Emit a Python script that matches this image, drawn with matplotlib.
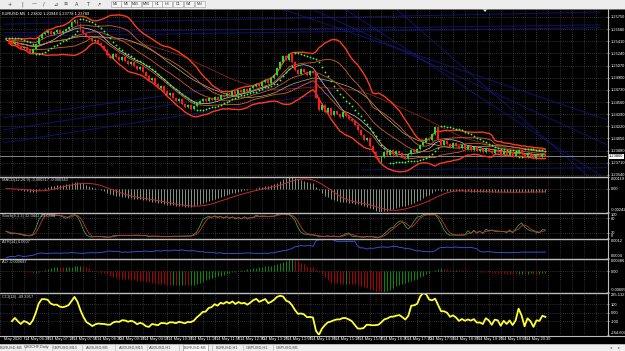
import numpy as np
import pandas as pd
import matplotlib
matplotlib.use("Agg")
import matplotlib.pyplot as plt
from matplotlib.patches import Rectangle, Polygon
import logging
logging.getLogger('matplotlib.font_manager').setLevel(logging.ERROR)

plt.rcParams['font.family'] = ['Liberation Sans Narrow', 'Liberation Sans', 'DejaVu Sans']

W, H = 625, 351
AXR = 607            # right edge of the plot area (px)
XMIN, XMAX = -2 / 3, (AXR - 2) / 3   # 3 px per bar

### data ###
symbol_line = "EURUSD,M5  1.23802 1.23944 1.23778 1.23789"
first_open = 1.2545
wick = 0.00012

close = [
    1.2543, 1.2540, 1.2537, 1.2539, 1.2534, 1.2532, 1.2533,
    1.2529, 1.2525, 1.2530, 1.2537, 1.2546, 1.2551, 1.2553,
    1.2555, 1.2551, 1.2554, 1.2557, 1.2553, 1.2555, 1.2558, 1.2561,
    1.2568, 1.2571, 1.2565, 1.2557, 1.2553, 1.2548,
    1.2546, 1.2541, 1.2543, 1.2539, 1.2534, 1.2529,
    1.2522, 1.2518, 1.2523, 1.2519, 1.2515,
    1.2519, 1.2513, 1.2509, 1.2512, 1.2506, 1.2502, 1.2505,
    1.2498, 1.2492, 1.2487, 1.2490, 1.2481, 1.2476, 1.2478,
    1.2471, 1.2466, 1.2469, 1.2462, 1.2457, 1.2460, 1.2453,
    1.2449, 1.2452, 1.2446, 1.2450, 1.2455, 1.2457, 1.2460,
    1.2457, 1.2462, 1.2459, 1.2463, 1.2460, 1.2466, 1.2464,
    1.2469, 1.2466, 1.2471, 1.2467, 1.2473, 1.2470, 1.2474, 1.2471, 1.2476, 1.2478,
    1.2481, 1.2478, 1.2484, 1.2487, 1.2483, 1.2490, 1.2494,
    1.2504, 1.2512, 1.2520, 1.2515, 1.2523, 1.2512,
    1.2501, 1.2495, 1.2502, 1.2498, 1.2494, 1.2499, 1.2497,
    1.2462, 1.2445, 1.2452, 1.2442, 1.2448, 1.2438, 1.2443,
    1.2439, 1.2435, 1.2442, 1.2436, 1.2432, 1.2429, 1.2424,
    1.2417, 1.2410, 1.2403, 1.2406, 1.2394, 1.2386, 1.2378,
    1.2372, 1.2379, 1.2386, 1.2382, 1.2389, 1.2383, 1.2387,
    1.2385, 1.2380, 1.2378, 1.2383, 1.2389, 1.2386, 1.2390,
    1.2396, 1.2400, 1.2406, 1.2403, 1.2411, 1.2421,
    1.2403, 1.2396, 1.2401, 1.2397, 1.2393, 1.2399, 1.2394,
    1.2392, 1.2396, 1.2390, 1.2394, 1.2389, 1.2393, 1.2387,
    1.2390, 1.2386, 1.2392, 1.2387, 1.2385, 1.2389, 1.2386,
    1.2383, 1.2387, 1.2382, 1.2386, 1.2380, 1.2385, 1.2389,
    1.2383, 1.2379, 1.2385, 1.2380, 1.2378, 1.2382, 1.2379, 1.2383, 1.2380,
]

price_ticks = [1.2575, 1.2558, 1.2541, 1.2524, 1.2507, 1.2490, 1.2473,
               1.2456, 1.2439, 1.2422, 1.2405, 1.2388, 1.2371, 1.2354]
price_lim = (1.23524, 1.25862)

time_labels = ["14 May 06:30", "14 May 07:10", "14 May 07:50", "14 May 08:30",
               "14 May 09:10", "14 May 09:50", "14 May 10:30", "14 May 11:10",
               "14 May 11:50", "14 May 12:30", "14 May 13:10", "14 May 13:50",
               "14 May 14:30", "14 May 15:10", "14 May 15:50", "14 May 16:30",
               "14 May 17:10", "14 May 17:50", "14 May 18:30", "14 May 19:10",
               "14 May 19:50", "14 May 20:30"]
first_label_bar = 6
label_every = 8

# trend lines drawn on the chart: (bar0, price0, bar1, price1)
trend_lines = [
    (-0.7, 1.2565, 199.3, 1.2582),
    (-0.7, 1.2553, 199.3, 1.2564),
    (-0.7, 1.2548, 199.3, 1.2560),
    (92.7, 1.2586, 201.7, 1.2431),
    (102.7, 1.2586, 201.7, 1.2396),
    (113.7, 1.2586, 201.7, 1.2347),
    (131.0, 1.2586, 201.7, 1.2329),
    (-0.7, 1.2417, 109.3, 1.2487),
    (-0.7, 1.2399, 109.3, 1.2469),
    (-0.7, 1.2434, 72.7, 1.2476),
    (119.3, 1.2361, 201.7, 1.2364),
]

tabs = ["EURUSD,M5", "USDCHF,Daily", "GBPUSD,M15", "AUDUSD,M5", "AUDUSD,M15",
        "AUDUSD,H1", "EURUSD,M5", "EURUSD,H1", "GBPUSD,H1", "GBPUSD,M5"]
tab_x = [11, 37, 65, 97, 131, 160, 195, 227, 257, 287]
active_tab = 6
tf_buttons = ["M1", "M5", "M15", "M30", "H1", "H4", "D1", "W1", "MN"]
tf_x = [115.5, 126, 135.5, 146.5, 157, 167, 178, 189, 200]

### indicators ###
c = pd.Series(close)
o = pd.Series(np.r_[first_open, close[:-1]])
hi = np.maximum(o, c) + wick
lo = np.minimum(o, c) - wick
x = np.arange(len(c))

mid = c.rolling(20, min_periods=2).mean()
sd = c.rolling(20, min_periods=2).std(ddof=0)
bb_up, bb_dn = mid + 2 * sd, mid - 2 * sd
bb_up1, bb_dn1 = mid + sd, mid - sd
ma10 = c.rolling(10, min_periods=1).mean()
ma30 = c.rolling(30, min_periods=1).mean()
ma50 = c.rolling(50, min_periods=1).mean()


def psar(high, low, step=0.02, mx=0.2):
    high, low = np.asarray(high), np.asarray(low)
    n = len(high)
    sar = np.zeros(n)
    up, af, ep = False, step, low[0]
    sar[0] = high[0]
    for i in range(1, n):
        s = sar[i - 1] + af * (ep - sar[i - 1])
        if up:
            s = min(s, low[i - 1], low[max(i - 2, 0)])
            if low[i] < s:
                up, s, ep, af = False, ep, low[i], step
            elif high[i] > ep:
                ep, af = high[i], min(af + step, mx)
        else:
            s = max(s, high[i - 1], high[max(i - 2, 0)])
            if high[i] > s:
                up, s, ep, af = True, ep, high[i], step
            elif low[i] < ep:
                ep, af = low[i], min(af + step, mx)
        sar[i] = s
    return sar


sar = psar(hi, lo)

macd = c.ewm(span=12, adjust=False).mean() - c.ewm(span=26, adjust=False).mean()
macd_sig = macd.rolling(9, min_periods=1).mean()

ll, hh = lo.rolling(8, min_periods=1).min(), hi.rolling(8, min_periods=1).max()
st_k = 100 * (c - ll).rolling(3, min_periods=1).sum() / (hh - ll).rolling(3, min_periods=1).sum()
st_d = st_k.rolling(3, min_periods=1).mean()

prev = c.shift(1).fillna(first_open)
tr = pd.concat([hi - lo, (hi - prev).abs(), (lo - prev).abs()], axis=1).max(axis=1)
atr = tr.rolling(14, min_periods=1).mean()

med = (hi + lo) / 2
ao = med.rolling(5, min_periods=1).mean() - med.rolling(34, min_periods=1).mean()
ao_col = np.where(ao.diff().fillna(0) >= 0, '#00a800', '#c80000')

tp = (hi + lo + c) / 3
md = tp.rolling(14, min_periods=3).apply(lambda v: np.mean(np.abs(v - v.mean())), raw=True)
cci = (tp - tp.rolling(14, min_periods=3).mean()) / (0.015 * md)

### figure ###
fig = plt.figure(figsize=(W / 100, H / 100), dpi=100, facecolor='black')
GRID = dict(color='#5c5c5c', ls=(0, (1, 2)), lw=0.5)
FS = 2.9


def panel(top, bottom):
    ax = fig.add_axes([0, 1 - bottom / H, AXR / W, (bottom - top) / H])
    ax.set_facecolor('black')
    for s in ax.spines.values():
        s.set_visible(False)
    ax.set_xlim(XMIN, XMAX)
    ax.set_xticks(np.arange(-2, XMAX, 4))
    ax.tick_params(axis='x', bottom=False, labelbottom=False)
    ax.yaxis.tick_right()
    ax.tick_params(axis='y', colors='white', labelsize=FS, length=1.5, width=0.5, pad=1)
    ax.grid(True, **GRID)
    ax.set_axisbelow(True)
    return ax


def title(ax, s):
    ax.text(0.004, 0.96, s, transform=ax.transAxes, va='top', ha='left',
            fontsize=FS, color='#d8d8d8')


def edge_ticks(ax, vals, fmt, inset=True):
    ax.set_yticks(vals)
    labs = ax.set_yticklabels([fmt(v) for v in vals])
    if inset:
        labs[0].set_va('top')
        labs[-1].set_va('bottom')


# main chart
ax = panel(9, 176)
ax.set_ylim(*price_lim)
edge_ticks(ax, price_ticks, lambda v: f"{v:.5f}", inset=False)
for b0, p0, b1, p1 in trend_lines:
    ax.plot([b0, b1], [p0, p1], color='#1a1a9a', lw=0.8, alpha=0.6, zorder=1)
ax.axhline(close[-1], color='#9a9a9a', lw=0.6, zorder=1)
ax.plot(x, ma50, color='#8b1f1f', lw=0.6, zorder=2)
ax.plot(x, ma30, color='#b8b070', lw=0.5, zorder=2)
ax.plot(x, ma10, color='#d0d0d0', lw=0.5, zorder=2)
ax.plot(x, mid, color='#c85a28', lw=0.6, zorder=2)
ax.plot(x, bb_up1, color='#d9602c', lw=0.6, zorder=2)
ax.plot(x, bb_dn1, color='#d9602c', lw=0.6, zorder=2)
ax.plot(x, bb_up, color='#ff3a1c', lw=1.0, zorder=2)
ax.plot(x, bb_dn, color='#ff3a1c', lw=1.0, zorder=2)
cols = np.where(c > o, '#22dd22', '#ff1a1a')
ax.vlines(x, lo, hi, colors=cols, lw=0.5, zorder=3)
ax.bar(x, np.maximum((c - o).abs(), 0.00003), bottom=np.minimum(o, c),
       width=0.65, color=cols, lw=0, zorder=3)
ax.plot(x, sar, ls='none', marker='o', ms=1.3, mec='none', mfc='#3cff3c', zorder=4)
ax.text(1.003, close[-1], f"{close[-1]:.5f}", transform=ax.get_yaxis_transform(),
        va='center', ha='left', fontsize=FS, color='black',
        bbox=dict(boxstyle='square,pad=0.15', fc='white', ec='none'))
ax.text(0.004, 0.985, symbol_line, transform=ax.transAxes, va='top', ha='left',
        fontsize=FS, color='white')

# MACD
ax2 = panel(177, 212)
lo2, hi2 = min(macd.min(), macd_sig.min()), max(macd.max(), macd_sig.max())
ax2.set_ylim(lo2, hi2)
edge_ticks(ax2, [hi2, 0, lo2], lambda v: "0.00" if v == 0 else f"{v:.5f}")
ax2.vlines(x, 0, macd, colors='#9aae9a', lw=0.6)
ax2.plot(x, macd_sig, color='#c82828', lw=0.7)
title(ax2, f"MACD(12,26,9) {macd.iloc[-1]:.6f} {macd_sig.iloc[-1]:.6f}")

# Stochastic
ax3 = panel(213, 238)
ax3.set_ylim(0, 100)
edge_ticks(ax3, [100, 80, 20, 0], lambda v: f"{v:g}")
ax3.plot(x, st_k, color='#3aa040', lw=0.6)
ax3.plot(x, st_d, color='#c83232', lw=0.6)
title(ax3, f"Stoch(8,3,3) {st_k.iloc[-1]:.4f} {st_d.iloc[-1]:.4f}")

# ATR
ax4 = panel(239, 258)
lo4, hi4 = atr.min(), atr.max()
ax4.set_ylim(lo4, hi4)
edge_ticks(ax4, [hi4, lo4], lambda v: f"{v:.4f}")
ax4.plot(x, atr, color='#3050d0', lw=0.7)
title(ax4, f"ATR(14) {atr.iloc[-1]:.4f}")

# Awesome oscillator
ax5 = panel(259, 292)
lo5, hi5 = ao.min(), ao.max()
ax5.set_ylim(lo5, hi5)
edge_ticks(ax5, [hi5, 0, lo5], lambda v: "0.00" if v == 0 else f"{v:.5f}")
ax5.vlines(x, 0, ao, colors=ao_col, lw=0.6)
title(ax5, f"AO {ao.iloc[-1]:.6f}")

# CCI
ax6 = panel(293, 335)
lo6, hi6 = cci.min(), cci.max()
ax6.set_ylim(lo6, hi6)
edge_ticks(ax6, [hi6, 100, 0, -100, lo6],
           lambda v: "0.00" if v == 0 else f"{v:g}" if abs(v) == 100 else f"{v:.3f}")
ax6.plot(x, cci, color='#ffff30', lw=1.3)
title(ax6, f"CCI(14) {cci.iloc[-1]:.4f}")

# time axis
tb = [first_label_bar + label_every * k for k in range(len(time_labels))]
xt = ax6.get_xaxis_transform()
ax6.vlines(tb, -0.02, -0.09, transform=xt, colors='white', lw=0.4, clip_on=False)
for b, s in zip(tb, time_labels):
    ax6.text(b + 0.4, -0.05, s, transform=xt, va='top', ha='left',
             fontsize=FS, color='white', clip_on=False)
ax6.text(first_label_bar - label_every + 1.2, -0.05, "May 2020", transform=xt,
         va='top', ha='left', fontsize=FS, color='white', clip_on=False)

# window chrome
ov = fig.add_axes([0, 0, 1, 1], zorder=10)
ov.set_xlim(0, W)
ov.set_ylim(H, 0)
ov.axis('off')
ov.patch.set_alpha(0)
ov.add_patch(Rectangle((0, 0), W, 8.5, fc='#ededed', ec='none'))
ov.plot([0, W], [8.5, 8.5], color='#a0a0a0', lw=0.5)
for gx, g in zip([10, 22, 34, 44, 55, 66, 77, 88, 98],
                 ["+", "|", "—", "/", "⊿", "≡", "A", "T", "↗"]):
    ov.text(gx, 4.3, g, ha='center', va='center', fontsize=3.6, color='#404040',
            family=['DejaVu Sans'])
for bx, b in zip(tf_x, tf_buttons):
    ov.add_patch(Rectangle((bx - 5, 1.2), 10, 6.2, fc='#f6f6f6', ec='#9a9a9a', lw=0.4))
    ov.text(bx, 4.4, b, ha='center', va='center', fontsize=2.7, color='#303030')
ov.add_patch(Polygon([[482.5, 9], [487.5, 9], [485, 12]], closed=True, fc='#dddddd', ec='none'))

for yy in [176.5, 212.5, 238.5, 258.5, 292.5]:
    ov.plot([0, AXR], [yy, yy], color='#bdbdbd', lw=1.0)
ov.plot([0, W], [335.6, 335.6], color='#bdbdbd', lw=0.8)
ov.plot([AXR + 0.5, AXR + 0.5], [9, 336], color='#bdbdbd', lw=0.8)

ov.add_patch(Rectangle((0, 343.5), W, 8, fc='#efefef', ec='none'))
ov.plot([0, W], [343.5, 343.5], color='#a0a0a0', lw=0.5)
for i, (tx, t) in enumerate(zip(tab_x, tabs)):
    if i == active_tab:
        ov.add_patch(Rectangle((tx - 12.5, 343.8), 25, 7.2, fc='white', ec='#808080', lw=0.4))
    ov.text(tx, 347.4, t, ha='center', va='center', fontsize=2.8, color='#404040')
    if i < len(tabs) - 1:
        sx = (tx + tab_x[i + 1]) / 2 + 1
        ov.plot([sx, sx], [345, 350], color='#a8a8a8', lw=0.4)
ov.text(611, 347.4, "◂", ha='center', va='center', fontsize=3, color='#606060',
        family=['DejaVu Sans'])
ov.text(619, 347.4, "▸", ha='center', va='center', fontsize=3, color='#606060',
        family=['DejaVu Sans'])

fig.savefig("out.png", dpi=100, facecolor='black')
